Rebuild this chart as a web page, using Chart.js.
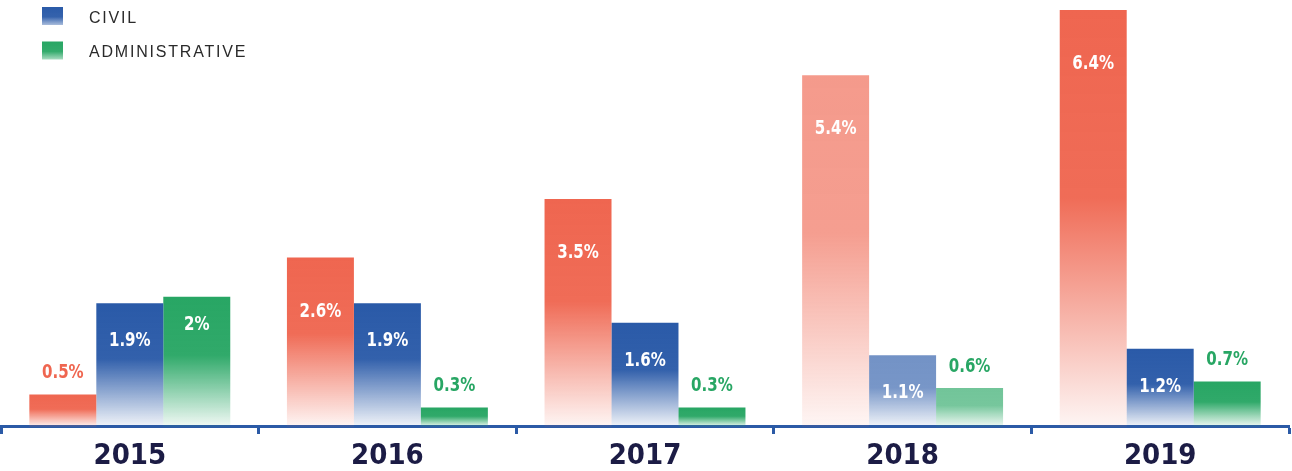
<!DOCTYPE html>
<html>
<head>
<meta charset="utf-8">
<script src="https://cdn.jsdelivr.net/npm/chart.js@4/dist/chart.umd.min.js"></script>
<style>
  html, body { margin: 0; padding: 0; background: #ffffff; }
  #wrap { position: relative; width: 1292px; height: 471px; }
</style>
</head>
<body>
<div id="wrap"><canvas id="chart"></canvas></div>
<script>
const years = ["2015", "2016", "2017", "2018", "2019"];
const criminal = [0.5, 2.6, 3.5, 5.4, 6.4];
const civil = [1.9, 1.9, 1.6, 1.1, 1.2];
const administrative = [2, 0.3, 0.3, 0.6, 0.7];
const seriesNames = ["CRIMINAL", "CIVIL", "ADMINISTRATIVE"];

const RED = [239, 102, 80];
const BLUE = [42, 90, 168];
const GREEN = [40, 166, 100];
const faded = [3]; // 2018 bars are drawn lighter

const rgba = (c, a) => `rgba(${c[0]}, ${c[1]}, ${c[2]}, ${a})`;
const condensed = '"DejaVu Sans Condensed", "DejaVu Sans", sans-serif';

function barFill(rgb) {
    return function (ctx) {
        const chart = ctx.chart;
        const alpha = faded.includes(ctx.dataIndex) ? 0.66 : 1;
        if (!chart.chartArea || ctx.raw === undefined) return rgba(rgb, alpha);
        const y = chart.scales.y;
        const top = y.getPixelForValue(ctx.raw);
        const base = y.getPixelForValue(0);
        if (!(base > top)) return rgba(rgb, alpha);
        const g = chart.ctx.createLinearGradient(0, top, 0, base);
        g.addColorStop(0, rgba(rgb, alpha));
        g.addColorStop(0.45, rgba(rgb, alpha * 0.96));
        g.addColorStop(1, rgba(rgb, 0.06));
        return g;
    };
}

// value labels: inside the bar in white when it is tall enough, above it in colour otherwise
const insideOffset = [54, 38, 28];
const labelColor = [RED, BLUE, GREEN];
const valueLabels = {
    id: "valueLabels",
    afterDatasetsDraw(chart) {
        const c = chart.ctx;
        const squeeze = 0.88;
        chart.data.datasets.forEach((ds, di) => {
            chart.getDatasetMeta(di).data.forEach((bar, i) => {
                const v = ds.data[i];
                const y = v >= 1 ? bar.y + insideOffset[di] : bar.y - 21;
                c.save();
                c.font = `bold 19px ${condensed}`;
                c.textAlign = "center";
                c.textBaseline = "middle";
                c.fillStyle = v >= 1 ? "#ffffff" : rgba(labelColor[di], 1);
                c.translate(bar.x, y);
                c.scale(squeeze, 1);
                c.fillText(v + "%", 0, 0);
                c.restore();
            });
        });
    }
};

// legend in the top left corner (the first entry sits above the picture)
const cornerLegend = {
    id: "cornerLegend",
    afterDraw(chart) {
        const c = chart.ctx;
        const items = [[seriesNames[1], BLUE, 16], [seriesNames[2], GREEN, 50.5]];
        c.save();
        c.font = '16px "Liberation Sans", Arial, sans-serif';
        c.letterSpacing = "1.8px";
        c.textBaseline = "middle";
        items.forEach(([name, rgb, y]) => {
            const g = c.createLinearGradient(0, y - 9, 0, y + 9);
            g.addColorStop(0, rgba(rgb, 1));
            g.addColorStop(0.55, rgba(rgb, 0.95));
            g.addColorStop(1, rgba(rgb, 0.4));
            c.fillStyle = g;
            c.fillRect(42, y - 9, 21, 18);
            c.fillStyle = "#2a2a2a";
            c.fillText(name, 89, y + 2.5);
        });
        c.restore();
    }
};

new Chart(document.getElementById("chart"), {
    type: "bar",
    data: {
        labels: years,
        datasets: [
            { label: seriesNames[0], data: criminal, backgroundColor: barFill(RED) },
            { label: seriesNames[1], data: civil, backgroundColor: barFill(BLUE) },
            { label: seriesNames[2], data: administrative, backgroundColor: barFill(GREEN) }
        ]
    },
    options: {
        responsive: true,
        maintainAspectRatio: false,
        animation: false,
        layout: { padding: { top: 10, left: 1, right: 3, bottom: -7 } },
        datasets: { bar: { barPercentage: 1, categoryPercentage: 0.78, borderWidth: 0 } },
        plugins: { legend: { display: false }, tooltip: { enabled: false } },
        scales: {
            x: {
                offset: true,
                grid: {
                    offset: true,
                    drawOnChartArea: false,
                    drawTicks: true,
                    tickLength: 7,
                    tickWidth: 3,
                    color: "#2b5aa6"
                },
                border: { display: true, color: "#2b5aa6", width: 3 },
                ticks: {
                    color: "#1c1c45",
                    padding: 15,
                    font: { family: condensed, size: 29, weight: "bold", lineHeight: 0.483 }
                }
            },
            y: {
                display: false,
                min: 0,
                max: 6.4
            }
        }
    },
    plugins: [valueLabels, cornerLegend]
});
</script>
</body>
</html>
